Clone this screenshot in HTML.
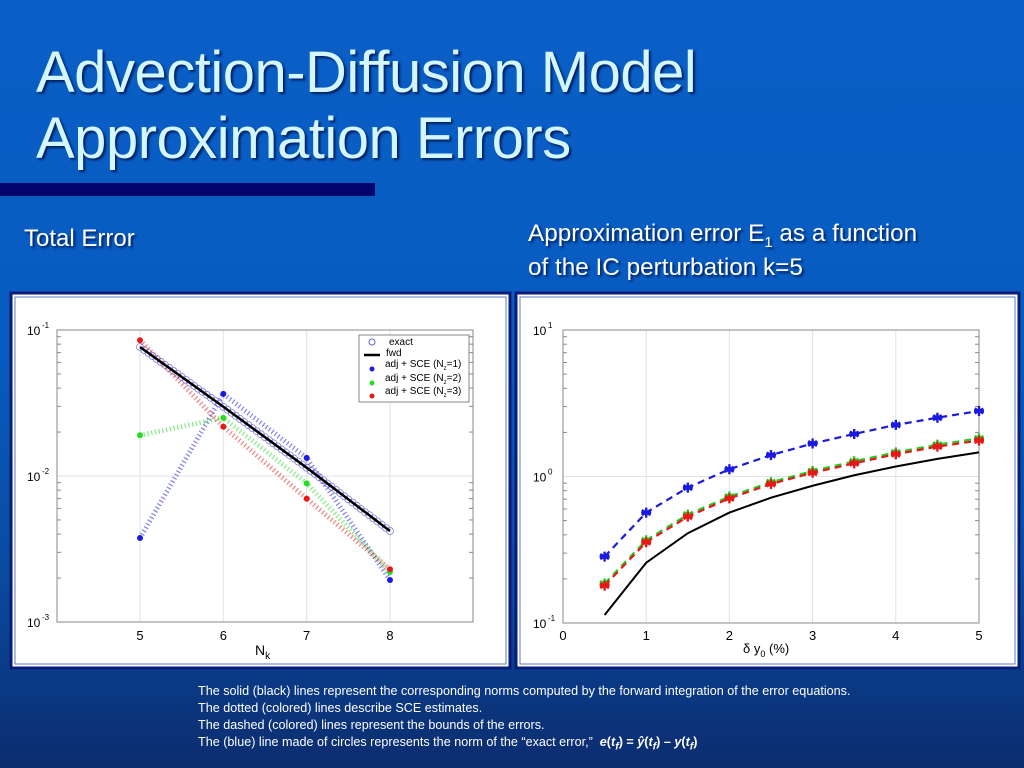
<!DOCTYPE html>
<html><head><meta charset="utf-8"><style>
html,body{margin:0;padding:0}
body{width:1024px;height:768px;overflow:hidden;background:linear-gradient(180deg,#0a5ec6 0%,#075cc0 45%,#0a4aa0 75%,#0b2c6e 100%);font-family:"Liberation Sans",sans-serif;position:relative}
.t{position:absolute;color:#fff;text-shadow:2px 2px 2px #032060;white-space:nowrap}
</style></head><body>
<div class="t" style="left:36px;top:40px;font-size:58px;line-height:66px;color:#d4f6ff;letter-spacing:-0.5px">Advection-Diffusion Model<br>Approximation Errors</div>
<div style="position:absolute;left:0;top:183px;width:375px;height:13px;background:#04056c"></div>
<div class="t" style="left:24px;top:225px;font-size:24px">Total Error</div>
<div class="t" style="left:528px;top:217px;font-size:24.3px;line-height:34px">Approximation error E<sub style="font-size:15px;line-height:0">1</sub> as a function<br>of the IC perturbation k=5</div>
<div class="t" style="left:198px;top:683px;font-size:12.6px;line-height:17px;text-shadow:none">The solid (black) lines represent the corresponding norms computed by the forward integration of the error equations.<br>The dotted (colored) lines describe SCE estimates.<br>The dashed (colored) lines represent the bounds of the errors.<br>The (blue) line made of circles represents the norm of the “exact error,” &nbsp;<b><i>e</i>(<i>t<sub>f</sub></i>) = <i>ŷ</i>(<i>t<sub>f</sub></i>) – <i>y</i>(<i>t<sub>f</sub></i>)</b></div>
<svg id="s" width="1024" height="768" style="position:absolute;left:0;top:0" font-family="Liberation Sans, sans-serif"></svg>
<script>
// Left chart data
const nk = [5,6,7,8];
const exactVals = [0.0765,0.0298,0.0114,0.0042];
const fwdVals = [0.0765,0.0298,0.0114,0.0042];
const nz1 = [0.00376,0.0365,0.0133,0.00194];
const nz2 = [0.019,0.025,0.0089,0.0022];
const nz3 = [0.085,0.0218,0.007,0.0023];
const leftYTicks = ["10","10","10"], leftYExp = ["-1","-2","-3"];
// Right chart data
const dy = [0.5,1,1.5,2,2.5,3,3.5,4,4.5,5];
const bBlue = [0.284,0.567,0.84,1.12,1.40,1.68,1.95,2.25,2.52,2.80];
const bGreen = [0.186,0.367,0.55,0.73,0.915,1.09,1.27,1.46,1.65,1.82];
const bRed = [0.180,0.356,0.532,0.709,0.889,1.06,1.23,1.42,1.60,1.76];
const fwdR = [0.1135,0.258,0.41,0.567,0.717,0.865,1.02,1.17,1.32,1.46];
const rightXTicks = [0,1,2,3,4,5];

const S=document.getElementById('s');const NS='http://www.w3.org/2000/svg';
function mk(t,a,p){const e=document.createElementNS(NS,t);for(const k in a)e.setAttribute(k,a[k]);(p||S).appendChild(e);return e;}

function panel(x,y,w,h,name){
  const g=mk('rect',{x:x,y:y,width:w,height:h,fill:'#fff',stroke:'#0a1c7a','stroke-width':3});
  
  
  mk('rect',{x:x+4,y:y+4,width:w-8,height:h-8,fill:'none',stroke:'#5a78c8','stroke-width':1});
}
panel(11,293,499,375,'left-chart-panel');
panel(516,293,503,375,'right-chart-panel');

const LX0=57,LX1=473,LY0=330,LY1=622;
const lx=v=>140+(v-5)*83.33;
const ly=v=>LY0+(-1-Math.log10(v))*146;
function axesBox(x0,y0,x1,y1,name){
  const r=mk('rect',{x:x0,y:y0,width:x1-x0,height:y1-y0,fill:'none',stroke:'#888','stroke-width':1});
  
  
}
[5,6,7,8].forEach(v=>{mk('line',{x1:lx(v),x2:lx(v),y1:LY0,y2:LY1,stroke:'#e2e2e2'});
 const t=mk('text',{x:lx(v),y:640,'font-size':13,'text-anchor':'middle',fill:'#000'});t.textContent=v;
 
 });
mk('line',{x1:LX0,x2:LX1,y1:ly(0.01),y2:ly(0.01),stroke:'#e2e2e2'});
leftYExp.forEach((e,i)=>{const yy=LY0+i*146;
 const t=mk('text',{x:27,y:yy+5,'font-size':12,fill:'#000'});t.textContent=leftYTicks[i];
 
 
 const s=mk('text',{x:42,y:yy-2,'font-size':8,fill:'#000'});s.textContent=e;});
for(let d=-3;d<-1;d++)for(let m=2;m<10;m++){const yy=ly(m*Math.pow(10,d));mk('line',{x1:LX0,x2:LX0+4,y1:yy,y2:yy,stroke:'#888'});mk('line',{x1:LX1,x2:LX1-4,y1:yy,y2:yy,stroke:'#888'});}
axesBox(LX0,LY0,LX1,LY1,'left-plot-area');
const xl=mk('text',{x:255,y:655,'font-size':14,fill:'#000'});xl.innerHTML='N<tspan font-size="10" dy="4">k</tspan>';



function dotted(xs,ys,fx,fy,col,name){
  const p=mk('polyline',{points:xs.map((v,i)=>fx(v)+','+fy(ys[i])).join(' '),fill:'none',stroke:col,'stroke-width':5,'stroke-dasharray':'1.2 2.6','stroke-opacity':0.55});
  
  
  xs.forEach((v,i)=>mk('circle',{cx:fx(v),cy:fy(ys[i]),r:3,fill:col}));
}
const ex=mk('g',{});


for(let i=0;i<nk.length-1;i++){for(let k=0;k<20;k++){const f=k/20;const v=Math.pow(10,Math.log10(exactVals[i])*(1-f)+Math.log10(exactVals[i+1])*f);
 mk('circle',{cx:lx(nk[i]+f),cy:ly(v),r:3.5,fill:'none',stroke:'#8080e0','stroke-width':0.8},ex);}}
mk('circle',{cx:lx(8),cy:ly(exactVals[3]),r:3.5,fill:'none',stroke:'#8080e0','stroke-width':0.8},ex);
dotted(nk,nz1,lx,ly,'#1a1ae0','nz1-series');
dotted(nk,nz2,lx,ly,'#22dd22','nz2-series');
dotted(nk,nz3,lx,ly,'#e81818','nz3-series');
const fl=mk('polyline',{points:nk.map((v,i)=>lx(v)+','+ly(fwdVals[i])).join(' '),fill:'none',stroke:'#000','stroke-width':2.5});


const lg=mk('g',{});


mk('rect',{x:359,y:335,width:110,height:67,fill:'#fff',stroke:'#888'},lg);
mk('circle',{cx:372,cy:342,r:3,fill:'none',stroke:'#6060e0'},lg);
mk('line',{x1:364,x2:380,y1:355,y2:355,stroke:'#000','stroke-width':2.5},lg);
[['#1a1ae0',367,'1'],['#22dd22',381,'2'],['#e81818',394,'3']].forEach(a=>{mk('circle',{cx:372,cy:a[1]+2,r:2.5,fill:a[0]},lg);
 const t=mk('text',{x:385,y:a[1],'font-size':10,fill:'#000'},lg);t.innerHTML='adj + SCE (N<tspan font-size="6" dy="3">z</tspan><tspan dy="-3">='+a[2]+')</tspan>';});
let t1=mk('text',{x:389,y:345,'font-size':10,fill:'#000'},lg);t1.textContent='exact';
t1=mk('text',{x:386,y:356,'font-size':10,fill:'#000'},lg);t1.textContent='fwd';

const RX0=563,RX1=979,RY0=330,RY1=623;
const rx=v=>RX0+v*(RX1-RX0)/5;
const ry=v=>RY0+(1-Math.log10(v))*146.5;
rightXTicks.forEach(v=>{if(v>0&&v<5)mk('line',{x1:rx(v),x2:rx(v),y1:RY0,y2:RY1,stroke:'#e2e2e2'});
 const t=mk('text',{x:rx(v),y:640,'font-size':13,'text-anchor':'middle',fill:'#000'});t.textContent=v;
 
 });
mk('line',{x1:RX0,x2:RX1,y1:ry(1),y2:ry(1),stroke:'#e2e2e2'});
[['1',RY0],['0',ry(1)],['-1',RY1]].forEach(a=>{const t=mk('text',{x:533,y:a[1]+5,'font-size':12,fill:'#000'});t.textContent='10';
 
 
 const s=mk('text',{x:548,y:a[1]-2,'font-size':8,fill:'#000'});s.textContent=a[0];});
for(let d=-1;d<1;d++)for(let m=2;m<10;m++){const yy=ry(m*Math.pow(10,d));mk('line',{x1:RX0,x2:RX0+4,y1:yy,y2:yy,stroke:'#888'});mk('line',{x1:RX1,x2:RX1-4,y1:yy,y2:yy,stroke:'#888'});}
axesBox(RX0,RY0,RX1,RY1,'right-plot-area');
const xr=mk('text',{x:743,y:653,'font-size':13,fill:'#000'});xr.innerHTML='δ y<tspan font-size="9" dy="4">0</tspan><tspan dy="-4"> (%)</tspan>';


function star(x,y,col){const r=5;let d='';for(let k=0;k<3;k++){const a=Math.PI/2+k*Math.PI/3;d+='M'+(x-r*Math.cos(a))+','+(y-r*Math.sin(a))+'L'+(x+r*Math.cos(a))+','+(y+r*Math.sin(a));}
 d+='M'+(x-r)+','+y+'L'+(x+r)+','+y;
 mk('path',{d:d,stroke:col,'stroke-width':2.4,fill:'none'});}
function dashed(ys,col,name){
  const p=mk('polyline',{points:dy.map((v,i)=>rx(v)+','+ry(ys[i])).join(' '),fill:'none',stroke:col,'stroke-width':2.2,'stroke-dasharray':'7 5'});
  
  
  dy.forEach((v,i)=>star(rx(v),ry(ys[i]),col));
}
dashed(bGreen,'#22cc22','bound-nz2');
dashed(bRed,'#e81818','bound-nz3');
dashed(bBlue,'#1a1ae0','bound-nz1');
const fr=mk('polyline',{points:dy.map((v,i)=>rx(v)+','+ry(fwdR[i])).join(' '),fill:'none',stroke:'#000','stroke-width':2});


</script>
</body></html>
